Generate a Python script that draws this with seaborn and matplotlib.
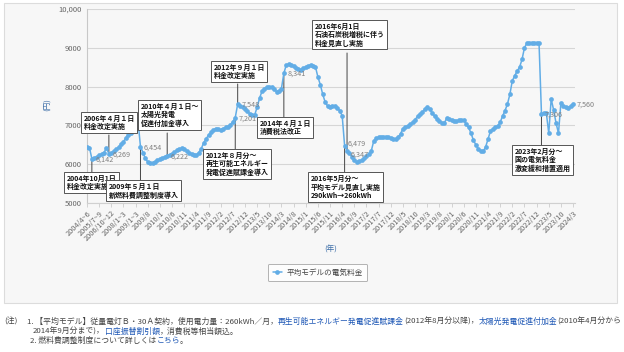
import matplotlib
matplotlib.use("Agg")
import matplotlib.pyplot as plt
from matplotlib.patches import Rectangle
from matplotlib.lines import Line2D
import numpy as np
import pandas as pd
import seaborn as sns

# ---------------- data ----------------
series_name = "平均モデルの電気料金"

values = [
    6440, 6430, 6142, 6160, 6190, 6230, 6260, 6300, 6420, 6269,
    6300, 6330, 6380, 6440, 6520, 6580, 6680, 6760, 6800, 6950,
    7150, 7100, 6454, 6300, 6150, 6060, 6020, 6030, 6060, 6100,
    6130, 6160, 6190, 6222, 6240, 6270, 6310, 6360, 6390, 6410,
    6400, 6350, 6300, 6260, 6250, 6240, 6300, 6400, 6550, 6650,
    6750, 6820, 6880, 6920, 6910, 6880, 6920, 6950, 6970, 7020,
    7090, 7201, 7548, 7500, 7470, 7420, 7360, 7300, 7270, 7270,
    7470, 7700, 7880, 7950, 7990, 8000, 7980, 7930, 7870, 7880,
    7950, 8341, 8560, 8570, 8560, 8520, 8490, 8450, 8440, 8480,
    8500, 8530, 8560, 8530, 8510, 8250, 8050, 7800, 7600, 7500,
    7480, 7500, 7490, 7450, 7380, 7250, 6479, 6347, 6280, 6190,
    6100, 6060, 6070, 6100, 6150, 6200, 6260, 6350, 6600, 6670,
    6690, 6700, 6710, 6710, 6700, 6670, 6650, 6660, 6700, 6780,
    6920, 6950, 6990, 7030, 7080, 7150, 7230, 7290, 7340, 7420,
    7470, 7410, 7330, 7240, 7170, 7120, 7070, 7060, 7180, 7160,
    7130, 7110, 7110, 7130, 7140, 7130, 7040, 6950, 6800, 6620,
    6500, 6400, 6340, 6330, 6440, 6650, 6850, 6900, 6960, 6980,
    7080, 7240, 7380, 7550, 7800, 8150, 8280, 8400, 8500, 8700,
    9000, 9120, 9120, 9120, 9120, 9120, 9120, 7306, 7310, 7320,
    6800, 7680, 7400, 7060, 6800, 7580, 7500, 7470, 7460, 7500,
    7560,
]

tick_labels = [
    "2004/4~6", "2005/7~9", "2006/10~12", "2008/1~3", "2009/1~3", "2009/8",
    "2010/1", "2010/6", "2010/11", "2011/4", "2011/9", "2012/2", "2012/7",
    "2012/12", "2013/5", "2013/10", "2014/3", "2014/8", "2015/1", "2015/6",
    "2015/11", "2016/4", "2016/9", "2017/2", "2017/7", "2017/12", "2018/5",
    "2018/10", "2019/3", "2019/8", "2020/1", "2020/6", "2020/11", "2021/4",
    "2021/9", "2022/2", "2022/7", "2022/12", "2023/5", "2023/10", "2024/3",
]

y_ticks = [5000, 6000, 7000, 8000, 9000, 10000]
y_tick_labels = ["5000", "6000", "7000", "8000", "9000", "10,000"]

# labelled points (index into values)
labelled_idx = [2, 9, 22, 33, 61, 62, 81, 106, 107, 187, 200]

# annotation callouts: point index, text
callout_idx = [2, 9, 22, 33, 62, 61, 81, 107, 106, 187]
callout_text = [
    "2004年10月1日\n料金改定実施",
    "2006年４月１日\n料金改定実施",
    "2009年５月１日\n新燃料費調整制度導入",
    "2010年４月１日～\n太陽光発電\n促進付加金導入",
    "2012年９月１日\n料金改定実施",
    "2012年８月分～\n再生可能エネルギー\n発電促進賦課金導入",
    "2014年４月１日\n消費税法改正",
    "2016年6月1日\n石油石炭税増税に伴う\n料金見直し実施",
    "2016年5月分～\n平均モデル見直し実施\n290kWh→260kWh",
    "2023年2月分～\n国の電気料金\n激変緩和措置適用",
]

# ---------------- style / layout ----------------
W, H = 624, 352
LINE = "#62ade6"
sns.set_theme(style="white")
plt.rcParams["font.family"] = ["Noto Sans CJK JP", "DejaVu Sans"]

fig = plt.figure(figsize=(W / 100, H / 100), dpi=100)
fig.patch.set_facecolor("white")

def fx(px):
    return px / W

def fy(py):
    return 1 - py / H

# grey chart panel
fig.patches.append(Rectangle((fx(4), fy(303)), (617 - 4) / W, (303 - 3) / H,
                             transform=fig.transFigure, fc="#f7f7f7",
                             ec="#dcdcdc", lw=0.8, zorder=-10))

ax = fig.add_axes([fx(87), fy(203), (575 - 87) / W, (203 - 9) / H])
ax.set_facecolor("none")

df = pd.DataFrame({"idx": np.arange(len(values)), "value": values})
sns.lineplot(data=df, x="idx", y="value", ax=ax, color=LINE, marker="o",
             markersize=3.4, markeredgewidth=0, linewidth=1.1, legend=False,
             zorder=3)

ax.set_xlim(0, 200.8)
ax.set_ylim(5000, 10000)
ax.set_yticks(y_ticks)
ax.set_yticklabels(y_tick_labels)
ax.set_xticks(np.arange(0, len(tick_labels) * 5, 5))
ax.set_xticklabels(tick_labels, rotation=45, ha="right", rotation_mode="anchor")
ax.set_xlabel("")
ax.set_ylabel("")
ax.yaxis.grid(True, color="#d6d6d6", lw=0.8)
ax.xaxis.grid(False)
for s in ["top", "right"]:
    ax.spines[s].set_visible(False)
ax.spines["left"].set_color("#c8c8c8")
ax.spines["bottom"].set_color("#d0d0d0")
ax.spines["left"].set_linewidth(0.8)
ax.spines["bottom"].set_linewidth(0.8)
ax.tick_params(axis="y", length=0, pad=4, labelsize=5.5, labelcolor="#666666")
ax.tick_params(axis="x", length=3, width=0.6, color="#cccccc", pad=1.5,
               labelsize=5.3, labelcolor="#666666", bottom=True)

fig.text(fx(48), fy(105), "(円)", rotation=90, ha="center", va="center",
         fontsize=5.5, color="#3d6ea8")
fig.text(fx(331), fy(250), "(年)", ha="center", va="center",
         fontsize=5.5, color="#3d6ea8")

# data labels (vertical nudge in points for the two crowded 2016 labels)
label_dy = {106: 1.8, 107: -2.2}
for i in labelled_idx:
    ax.annotate(f"{values[i]:,}", xy=(i, values[i]),
                xytext=(2.5, -0.5 + label_dy.get(i, 0)),
                textcoords="offset points", ha="left", va="center",
                fontsize=5.2, color="#808080", zorder=4)

# callout boxes: (left, top) in pixels, edge y where connector meets box
box_pos = [(64, 172), (81, 112), (106, 180), (138, 100), (211, 61),
           (203, 149), (257, 117), (312, 20), (308, 172), (512, 145)]
box_edge = [172, 135, 180, 133, 84, 149, 117, 53, 172, 145]

for i, txt, (bl, bt), ey in zip(callout_idx, callout_text, box_pos, box_edge):
    ax.annotate("", xy=(i, values[i]), xycoords="data",
                xytext=(i, H - ey), textcoords=("data", "figure pixels"),
                arrowprops=dict(arrowstyle="-", color="#444444", lw=0.7,
                                shrinkA=0, shrinkB=0),
                annotation_clip=False, zorder=2)
    fig.text(fx(bl + 2.5), fy(bt + 2.5), txt, ha="left", va="top",
             fontsize=5.0, color="#111111", fontweight="bold",
             linespacing=1.25, zorder=6,
             bbox=dict(boxstyle="square,pad=0.35", fc="white", ec="#555555",
                       lw=0.7))

# legend
handle = Line2D([], [], color=LINE, marker="o", markersize=3.4,
                markeredgewidth=0, lw=1.1)
leg = fig.legend([handle], [series_name], loc="center",
                 bbox_to_anchor=(fx(317.5), fy(272.5)),
                 bbox_transform=fig.transFigure, fontsize=5.5, frameon=True,
                 fancybox=True, handlelength=1.3, handletextpad=0.5,
                 borderpad=0.6)
leg.get_frame().set_edgecolor("#a0a0a0")
leg.get_frame().set_facecolor("white")
leg.get_frame().set_linewidth(0.7)
for t in leg.get_texts():
    t.set_color("#444444")

# notes below panel
GREY = "#444444"
BLUE = "#1d57b5"
NFS = 5.65

def chain(parts, x0, y_base):
    prev = None
    for s, c in parts:
        if prev is None:
            prev = ax.annotate(s, xy=(x0, H - y_base), xycoords="figure pixels",
                               ha="left", va="bottom", fontsize=NFS, color=c,
                               annotation_clip=False)
        else:
            prev = ax.annotate(s, xy=(1, 0), xycoords=prev, ha="left",
                               va="bottom", fontsize=NFS, color=c,
                               annotation_clip=False)

chain([("(注)", GREY)], 4, 326)
chain([("1. 【平均モデル】従量電灯Ｂ・30Ａ契約，使用電力量：260kWh／月，", GREY),
       ("再生可能エネルギー発電促進賦課金", BLUE),
       ("(2012年8月分以降)，", GREY),
       ("太陽光発電促進付加金", BLUE),
       ("(2010年4月分から", GREY)], 27, 326)
chain([("2014年9月分まで)，", GREY),
       ("口座振替割引額", BLUE),
       ("，消費税等相当額込。", GREY)], 33, 336)
chain([("2. 燃料費調整制度について詳しくは", GREY),
       ("こちら", BLUE),
       ("。", GREY)], 30, 345)

fig.savefig("out.png", dpi=100, facecolor="white")
